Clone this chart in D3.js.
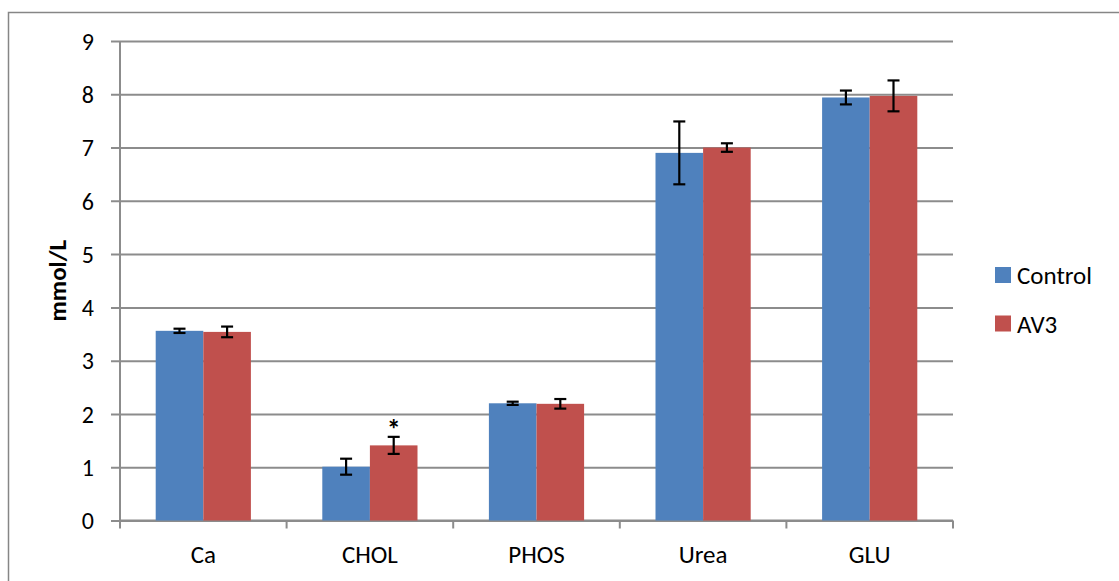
<!DOCTYPE html>
<html>
<head>
<meta charset="utf-8">
<script src="https://cdn.jsdelivr.net/npm/d3@7"></script>
<style>
  html, body { margin: 0; padding: 0; background: #fff; }
  svg { display: block; }
  text { font-family: Carlito, Calibri, "Open Sans", "Liberation Sans", sans-serif; fill: #000; }
</style>
</head>
<body>
<svg id="chart" width="1119" height="581"></svg>
<script>
// Serum biochemistry, mean ± error (mmol/L)
const categories = ["Ca", "CHOL", "PHOS", "Urea", "GLU"];
const seriesNames = ["Control", "AV3"];
const controlValues = [3.56, 1.01, 2.20, 6.90, 7.94];
const controlErrors = [0.04, 0.15, 0.03, 0.59, 0.13];
const av3Values = [3.54, 1.41, 2.19, 7.00, 7.97];
const av3Errors = [0.10, 0.16, 0.09, 0.08, 0.29];
const significant = [false, true, false, false, false]; // AV3 vs Control
const yTicks = [0, 1, 2, 3, 4, 5, 6, 7, 8, 9];
const colors = ["#4F81BD", "#C0504D"];

const series = [
  { name: seriesNames[0], values: controlValues, errors: controlErrors },
  { name: seriesNames[1], values: av3Values, errors: av3Errors }
];

const svg = d3.select("#chart");
const plot = { left: 120, right: 953, top: 41, bottom: 520.5 };

// Outer chart frame
svg.append("rect")
  .attr("x", 8.5).attr("y", 12.5)
  .attr("width", 1130).attr("height", 600)
  .attr("fill", "none").attr("stroke", "#868686").attr("stroke-width", 1.5);

const x = d3.scaleBand().domain(categories).range([plot.left, plot.right]).paddingInner(0).paddingOuter(0);
const y = d3.scaleLinear().domain([0, 9]).range([plot.bottom, plot.top]);

// Horizontal gridlines with tick labels
const yAxis = d3.axisLeft(y).tickValues(yTicks).tickFormat(d3.format("d"))
  .tickSize(-(plot.right - plot.left)).tickPadding(26);
const gy = svg.append("g").attr("transform", `translate(${plot.left},0)`).call(yAxis);
gy.select(".domain").remove();
gy.selectAll(".tick line").attr("x1", -9).attr("stroke", "#8c8c8c").attr("stroke-width", 2);
gy.selectAll(".tick text").attr("font-size", 24).attr("dy", "0.34em")
  .style("font-family", "Carlito, Calibri, 'Open Sans', sans-serif");

// Vertical axis line
svg.append("line")
  .attr("x1", plot.left).attr("x2", plot.left)
  .attr("y1", plot.top).attr("y2", plot.bottom)
  .attr("stroke", "#8c8c8c").attr("stroke-width", 2);

// Category axis: boundary ticks and centered labels
const gx = svg.append("g").attr("transform", `translate(0,${plot.bottom})`);
gx.append("line").attr("x1", plot.left).attr("x2", plot.right)
  .attr("stroke", "#8c8c8c").attr("stroke-width", 2);
const bounds = categories.map(c => x(c)).concat([x(categories[categories.length - 1]) + x.bandwidth()]);
gx.selectAll(".bt").data(bounds).join("line")
  .attr("x1", d => d).attr("x2", d => d).attr("y1", 0).attr("y2", 8)
  .attr("stroke", "#8c8c8c").attr("stroke-width", 2);
gx.selectAll(".cl").data(categories).join("text")
  .attr("x", d => x(d) + x.bandwidth() / 2).attr("y", 42)
  .attr("text-anchor", "middle").attr("font-size", 25).text(d => d);

// Bars within each category (gap width 75%)
const inner = d3.scaleBand().domain(seriesNames)
  .range([0, x.bandwidth()]).paddingOuter(0.75).paddingInner(0);

const barGroups = svg.append("g");
series.forEach((s, si) => {
  const g = barGroups.append("g");
  g.selectAll("rect").data(categories).join("rect")
    .attr("x", c => x(c) + inner(s.name))
    .attr("y", (c, i) => y(s.values[i]))
    .attr("width", inner.bandwidth())
    .attr("height", (c, i) => y(0) - y(s.values[i]))
    .attr("fill", colors[si]);
});

// Error bars
const capHalf = 6;
series.forEach((s, si) => {
  const g = svg.append("g").attr("stroke", "#000").attr("stroke-width", 2.2);
  categories.forEach((c, i) => {
    const cx = x(c) + inner(s.name) + inner.bandwidth() / 2;
    const lo = y(s.values[i] - s.errors[i]);
    const hi = y(s.values[i] + s.errors[i]);
    g.append("line").attr("x1", cx).attr("x2", cx).attr("y1", lo).attr("y2", hi);
    g.append("line").attr("x1", cx - capHalf).attr("x2", cx + capHalf).attr("y1", lo).attr("y2", lo);
    g.append("line").attr("x1", cx - capHalf).attr("x2", cx + capHalf).attr("y1", hi).attr("y2", hi);
  });
});

// Significance marker
categories.forEach((c, i) => {
  if (!significant[i]) return;
  const cx = x(c) + inner(seriesNames[1]) + inner.bandwidth() / 2;
  svg.append("text")
    .attr("x", cx).attr("y", y(av3Values[i] + av3Errors[i]) + 2)
    .attr("text-anchor", "middle").attr("font-size", 28).attr("font-weight", "bold")
    .text("*");
});

// Y axis title
svg.append("text")
  .attr("transform", `translate(66,${(plot.top + plot.bottom) / 2}) rotate(-90)`)
  .attr("text-anchor", "middle").attr("font-size", 25).attr("font-weight", "bold")
  .text("mmol/L");

// Legend
const legend = svg.append("g").attr("transform", "translate(995,267)");
seriesNames.forEach((n, i) => {
  const row = legend.append("g").attr("transform", `translate(0,${i * 48.5})`);
  row.append("rect").attr("width", 16).attr("height", 16).attr("fill", colors[i]);
  row.append("text").attr("x", 22).attr("y", 8).attr("dy", "0.36em")
    .attr("font-size", 25).text(n);
});
</script>
</body>
</html>
